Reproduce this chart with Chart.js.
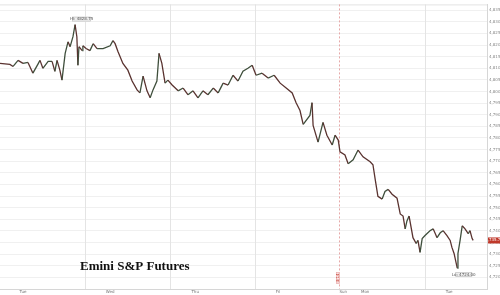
<!DOCTYPE html>
<html lang="en">
<head>
  <meta charset="UTF-8">
  <title>Emini S&amp;P Futures</title>
  <script src="https://cdn.jsdelivr.net/npm/chart.js@4/dist/chart.umd.min.js"></script>
  <style>
    body { margin: 0; background: #fff; }
    #wrap { width: 500px; height: 295px; }
  </style>
</head>
<body>
  <div id="wrap"><canvas id="chart" width="500" height="295"></canvas></div>
  <script>
    // hours since the first session open
    const hours = [0, 2.8, 3.7, 5.1, 6.5, 7.9, 9.3, 11.3, 12.1, 13.6, 14.7, 15.5, 16.1, 16.9, 17.5, 18.4, 19.2, 19.8, 20.6, 21.2,
      21.7, 22.0, 22.3, 23.2, 23.4, 24.3, 25.4, 26.3, 27.4, 29.1, 31.1, 31.9, 32.5, 33.3, 34.7, 36.1, 37.3, 38.7, 39.5, 40.4,
      41.5, 42.4, 43.2, 44.3, 44.9, 45.7, 46.6, 47.4, 48.6, 50.3, 51.7, 53.1, 54.5, 55.9, 57.3, 58.7, 60.2, 61.6, 63.0, 64.4,
      65.8, 67.2, 68.6, 70.0, 71.2, 72.3, 74.0, 75.7, 77.4, 79.1, 80.8, 82.5, 83.6, 84.7, 85.6, 87.5, 88.1, 88.4, 89.8, 91.2,
      92.3, 93.8, 94.6, 95.5, 96.0, 97.4, 98.3, 99.7, 101.1, 102.5, 104.5, 105.3, 105.9, 106.7, 107.9, 108.7, 109.6, 110.7, 112.1, 113.0,
      113.8, 114.4, 114.9, 115.5, 116.6, 117.5, 118.0, 118.6, 119.2, 120.0, 121.4, 122.3, 123.4, 124.3, 125.1, 126.2, 127.1, 127.6, 128.2, 129.1,
      129.3, 129.9, 130.5, 131.3, 132.2, 132.7, 133.3, 133.6];
    const prices = [4812.1, 4811.7, 4810.8, 4813.4, 4812.1, 4812.5, 4807.9, 4813.4, 4810.0, 4813.0, 4813.0, 4808.7, 4813.4, 4809.2, 4804.9, 4816.4, 4821.4, 4819.3, 4823.6, 4828.8,
      4823.6, 4811.3, 4819.3, 4817.6, 4819.7, 4818.5, 4817.6, 4820.6, 4818.5, 4818.5, 4819.7, 4821.9, 4820.6, 4817.2, 4812.1, 4809.2, 4804.5, 4800.7, 4799.4, 4806.6,
      4800.3, 4797.3, 4800.7, 4804.5, 4816.4, 4812.1, 4803.6, 4804.9, 4802.8, 4800.3, 4801.5, 4798.6, 4800.3, 4797.3, 4800.3, 4798.6, 4801.5, 4799.4, 4803.6, 4802.8,
      4807.0, 4804.5, 4808.7, 4810.0, 4811.3, 4807.0, 4807.9, 4805.8, 4807.0, 4803.6, 4801.5, 4799.4, 4795.2, 4791.8, 4785.9, 4789.7, 4795.2, 4785.4, 4778.2, 4786.7,
      4781.2, 4777.0, 4781.2, 4779.1, 4774.0, 4772.7, 4768.9, 4770.6, 4774.8, 4771.9, 4769.8, 4768.5, 4762.5, 4754.9, 4753.7, 4757.0, 4757.9, 4755.8, 4754.1, 4747.3,
      4746.4, 4740.9, 4744.3, 4746.4, 4737.1, 4734.6, 4735.9, 4730.8, 4736.7, 4738.0, 4740.1, 4740.9, 4737.1, 4739.2, 4740.1, 4738.0, 4735.9, 4732.9, 4730.3, 4724.0,
      4730.3, 4735.9, 4742.2, 4740.9, 4738.8, 4740.1, 4736.7, 4735.9];

    const xTickHours = [6.5, 31.1, 55.1, 78.5, 96.9, 103.1, 126.8];
    const xTickLabels = ['Tue', 'Wed', 'Thu', 'Fri', 'Sun', 'Mon', 'Tue'];
    const dayLines = [24, 48, 72, 120];
    const weekendLine = 95.7;
    const yTicks = [4720, 4725, 4730, 4735, 4740, 4745, 4750, 4755, 4760, 4765, 4770, 4775,
      4780, 4785, 4790, 4795, 4800, 4805, 4810, 4815, 4820, 4825, 4830, 4835];
    const hiLabel = 'Hi: 4828.75';
    const loLabel = 'Lo: 4724.00';
    const lastLabel = '4,735.75';
    const sessionLabel = '4/14';

    const points = hours.map((h, i) => ({ x: h, y: prices[i] }));
    const hiIndex = prices.indexOf(Math.max(...prices));
    const loIndex = prices.indexOf(Math.min(...prices));

    function box(ctx, x, y, w, h, fill, stroke) {
      ctx.fillStyle = fill;
      ctx.fillRect(x, y, w, h);
      if (stroke) {
        ctx.strokeStyle = stroke;
        ctx.lineWidth = 0.6;
        ctx.strokeRect(x + 0.5, y + 0.5, w - 1, h - 1);
      }
    }

    const extras = {
      id: 'extras',
      beforeDatasetsDraw(chart) {
        const { ctx, chartArea, scales } = chart;
        ctx.save();
        ctx.strokeStyle = '#e4e4e4';
        ctx.lineWidth = 1;
        dayLines.forEach(h => {
          const x = Math.round(scales.x.getPixelForValue(h)) + 0.5;
          ctx.beginPath();
          ctx.moveTo(x, chartArea.top);
          ctx.lineTo(x, chartArea.bottom);
          ctx.stroke();
        });
        // top border
        ctx.beginPath();
        ctx.moveTo(chartArea.left, chartArea.top + 0.5);
        ctx.lineTo(chartArea.right, chartArea.top + 0.5);
        ctx.stroke();
        const wx = Math.round(scales.x.getPixelForValue(weekendLine)) + 0.5;
        ctx.strokeStyle = '#e6a8a8';
        ctx.setLineDash([2, 2]);
        ctx.beginPath();
        ctx.moveTo(wx, chartArea.top);
        ctx.lineTo(wx, chartArea.bottom);
        ctx.stroke();
        ctx.restore();
      },
      afterDatasetsDraw(chart) {
        const { ctx, chartArea, scales } = chart;
        ctx.save();
        ctx.font = '4px "DejaVu Sans"';
        ctx.textAlign = 'center';
        ctx.textBaseline = 'middle';

        // hi label
        const hx = scales.x.getPixelForValue(hours[hiIndex]);
        const hy = scales.y.getPixelForValue(prices[hiIndex]);
        box(ctx, hx - 3, hy - 8, 19, 5, '#eeeeee', '#bdbdbd');
        ctx.fillStyle = '#555';
        ctx.fillText(hiLabel, hx + 6.5, hy - 5.5);

        // lo label
        const lx = scales.x.getPixelForValue(hours[loIndex]);
        const ly = scales.y.getPixelForValue(prices[loIndex]);
        box(ctx, lx - 2, ly + 4, 17, 5, '#eeeeee', '#bdbdbd');
        ctx.fillStyle = '#555';
        ctx.fillText(loLabel, lx + 6.5, ly + 6.5);

        // last price on the axis
        const py = scales.y.getPixelForValue(prices[prices.length - 1]);
        box(ctx, chartArea.right + 1, py - 3, 12, 6, '#c0392b');
        ctx.fillStyle = '#fff';
        ctx.fillText(lastLabel, chartArea.right + 7, py);

        // session marker on the weekend line
        const wx = scales.x.getPixelForValue(weekendLine);
        ctx.translate(wx - 1, chartArea.bottom - 11);
        ctx.rotate(-Math.PI / 2);
        box(ctx, -6, -2, 12, 4, '#fbe3e3', '#e6a8a8');
        ctx.fillStyle = '#c0392b';
        ctx.fillText(sessionLabel, 0, 0);
        ctx.restore();

        // title
        ctx.save();
        ctx.font = 'bold 13px "Liberation Serif"';
        ctx.fillStyle = '#111';
        ctx.textAlign = 'left';
        ctx.textBaseline = 'alphabetic';
        ctx.fillText('Emini S&P Futures', 80, 270);
        ctx.restore();
      }
    };

    const chart = new Chart(document.getElementById('chart').getContext('2d'), {
      type: 'line',
      data: {
        datasets: [{
          data: points,
          borderColor: '#4a3a36',
          borderWidth: 1.3,
          pointRadius: 0,
          tension: 0,
          segment: {
            borderColor: c => c.p1.parsed.y >= c.p0.parsed.y ? '#3f4f3c' : '#5a3330'
          }
        }]
      },
      options: {
        responsive: false,
        animation: false,
        layout: { padding: 0 },
        plugins: { legend: { display: false }, tooltip: { enabled: false } },
        scales: {
          x: {
            type: 'linear',
            min: 0,
            max: 137.5,
            afterBuildTicks: s => { s.ticks = xTickHours.map(v => ({ value: v })); },
            afterFit: s => { s.height = 6; },
            grid: { display: false, drawTicks: false },
            border: { color: '#d6d6d6' },
            ticks: {
              padding: 1,
              maxRotation: 0,
              autoSkip: false,
              font: { size: 4, family: 'DejaVu Sans' },
              color: '#777',
              callback: (v, i) => xTickLabels[i]
            }
          },
          y: {
            position: 'right',
            min: 4715,
            max: 4837.5,
            afterBuildTicks: s => { s.ticks = yTicks.map(v => ({ value: v })); },
            afterFit: s => { s.width = 13; },
            grid: { color: '#f0f0f0', drawTicks: false },
            border: { color: '#d6d6d6' },
            ticks: {
              padding: 2,
              font: { size: 4, family: 'DejaVu Sans' },
              color: '#888',
              callback: v => v.toLocaleString('en-US')
            }
          }
        }
      },
      plugins: [extras]
    });
  </script>
</body>
</html>
